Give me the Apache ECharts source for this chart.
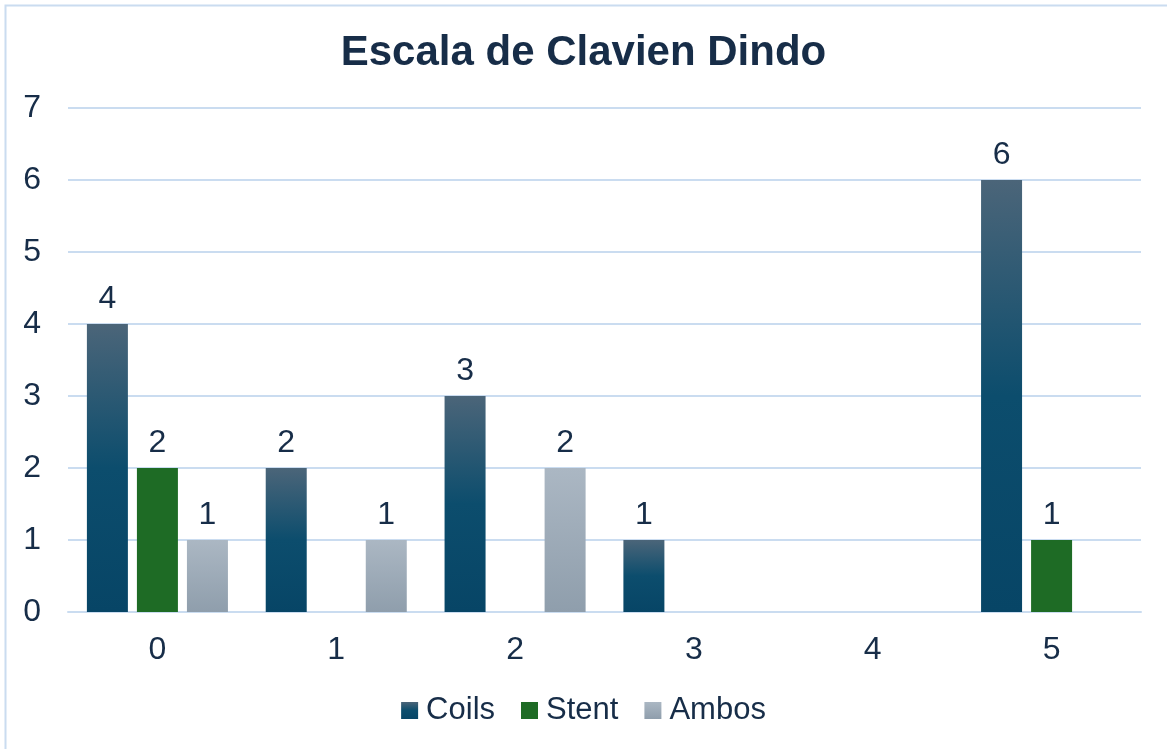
<!DOCTYPE html>
<html>
<head>
<meta charset="utf-8">
<script src="https://cdn.jsdelivr.net/npm/echarts@6/dist/echarts.min.js"></script>
<style>
  html, body { margin: 0; padding: 0; background: #fff; }
  #chart { width: 1167px; height: 749px; }
</style>
</head>
<body>
<div id="chart"></div>
<script>
// datos del grafico
const categories = ["0", "1", "2", "3", "4", "5"];
const coils = [4, 2, 3, 1, 0, 6];
const stent = [2, 0, 0, 0, 0, 1];
const ambos = [1, 1, 2, 0, 0, 0];

const textColor = "#172d48";
const gridColor = "#cadcf0";
const font = "Liberation Sans, Arial, sans-serif";

const chart = echarts.init(document.getElementById("chart"));

// los ceros no se dibujan
const hideZero = (arr) => arr.map((v) => (v === 0 ? null : v));

const barLabel = {
  show: true,
  position: "top",
  distance: 9,
  color: textColor,
  fontSize: 32,
  fontFamily: font,
};

chart.setOption({
  animation: false,
  textStyle: { fontFamily: font },
  title: {
    text: "Escala de Clavien Dindo",
    left: "center",
    top: 27,
    textStyle: {
      color: textColor,
      fontSize: 42,
      fontWeight: "bold",
      fontFamily: font,
    },
  },
  graphic: [
    {
      type: "rect",
      shape: { x: 5.5, y: 5.5, width: 1300, height: 900 },
      style: { fill: null, stroke: gridColor, lineWidth: 2 },
      silent: true,
      z: -1,
    },
  ],
  legend: {
    bottom: 18,
    left: "center",
    itemWidth: 17,
    itemHeight: 17,
    itemGap: 26,
    icon: "rect",
    textStyle: { color: textColor, fontSize: 31, padding: [0, 0, 0, 3] },
    data: ["Coils", "Stent", "Ambos"],
  },
  grid: { left: 68, right: 26, top: 108, bottom: 137, containLabel: false },
  xAxis: {
    type: "category",
    data: categories,
    axisLine: { lineStyle: { color: gridColor, width: 2 } },
    axisTick: { show: false },
    axisLabel: { color: textColor, fontSize: 32, margin: 22 },
  },
  yAxis: {
    type: "value",
    min: 0,
    max: 7,
    interval: 1,
    axisLine: { show: false },
    axisTick: { show: false },
    axisLabel: { color: textColor, fontSize: 32, margin: 27 },
    splitLine: { lineStyle: { color: gridColor, width: 2 } },
  },
  series: [
    {
      name: "Coils",
      type: "bar",
      data: hideZero(coils),
      barWidth: 41,
      barGap: "22%",
      itemStyle: {
        color: new echarts.graphic.LinearGradient(0, 0, 0, 1, [
          { offset: 0, color: "#4b6579" },
          { offset: 0.5, color: "#0c4d6d" },
          { offset: 1, color: "#074566" },
        ]),
      },
      label: barLabel,
    },
    {
      name: "Stent",
      type: "bar",
      data: hideZero(stent),
      barWidth: 41,
      itemStyle: { color: "#1e6b25" },
      label: barLabel,
    },
    {
      name: "Ambos",
      type: "bar",
      data: hideZero(ambos),
      barWidth: 41,
      itemStyle: {
        color: new echarts.graphic.LinearGradient(0, 0, 0, 1, [
          { offset: 0, color: "#abb7c3" },
          { offset: 1, color: "#8f9eac" },
        ]),
      },
      label: barLabel,
    },
  ],
});
</script>
</body>
</html>
